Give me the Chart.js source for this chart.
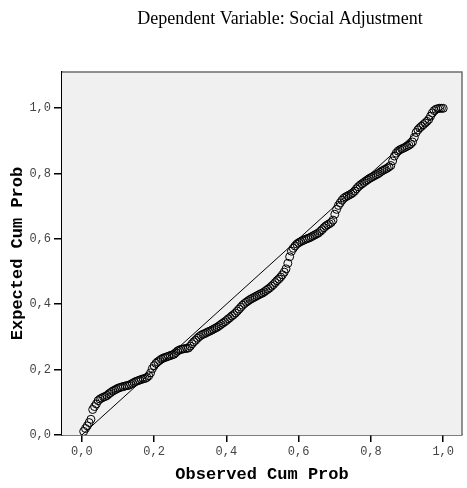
<!DOCTYPE html>
<html>
<head>
<meta charset="utf-8">
<script src="https://cdn.jsdelivr.net/npm/chart.js@4/dist/chart.umd.min.js"></script>
<style>
  html, body { margin: 0; padding: 0; background: #fff; }
  #wrap { width: 467px; height: 488px; }
</style>
</head>
<body>
<div id="wrap"><canvas id="pp"></canvas></div>
<script>
/* Normal P-P plot */
const chartTitle = 'Dependent Variable: Social Adjustment';
const xAxisTitle = 'Observed Cum Prob';
const yAxisTitle = 'Expected Cum Prob';
const tickValues = [0, 0.2, 0.4, 0.6, 0.8, 1.0];

const observedCumProb = [
  0.005, 0.010, 0.015, 0.020, 0.025, 0.030, 0.035, 0.040, 0.045, 0.050,
  0.055, 0.060, 0.065, 0.070, 0.075, 0.080, 0.085, 0.090, 0.095, 0.100,
  0.105, 0.110, 0.115, 0.120, 0.125, 0.130, 0.135, 0.140, 0.145, 0.150,
  0.155, 0.160, 0.165, 0.170, 0.175, 0.180, 0.185, 0.190, 0.195, 0.200,
  0.205, 0.210, 0.215, 0.220, 0.225, 0.230, 0.235, 0.240, 0.245, 0.250,
  0.255, 0.260, 0.265, 0.270, 0.275, 0.280, 0.285, 0.290, 0.295, 0.300,
  0.305, 0.310, 0.315, 0.320, 0.325, 0.330, 0.335, 0.340, 0.345, 0.350,
  0.355, 0.360, 0.365, 0.370, 0.375, 0.380, 0.385, 0.390, 0.395, 0.400,
  0.405, 0.410, 0.415, 0.420, 0.425, 0.430, 0.435, 0.440, 0.445, 0.450,
  0.455, 0.460, 0.465, 0.470, 0.475, 0.480, 0.485, 0.490, 0.495, 0.500,
  0.505, 0.510, 0.515, 0.520, 0.525, 0.530, 0.535, 0.540, 0.545, 0.550,
  0.555, 0.560, 0.565, 0.570, 0.575, 0.580, 0.585, 0.590, 0.595, 0.600,
  0.605, 0.610, 0.615, 0.620, 0.625, 0.630, 0.635, 0.640, 0.645, 0.650,
  0.655, 0.660, 0.665, 0.670, 0.675, 0.680, 0.685, 0.690, 0.695, 0.700,
  0.705, 0.710, 0.715, 0.720, 0.725, 0.730, 0.735, 0.740, 0.745, 0.750,
  0.755, 0.760, 0.765, 0.770, 0.775, 0.780, 0.785, 0.790, 0.795, 0.800,
  0.805, 0.810, 0.815, 0.820, 0.825, 0.830, 0.835, 0.840, 0.845, 0.850,
  0.855, 0.860, 0.865, 0.870, 0.875, 0.880, 0.885, 0.890, 0.895, 0.900,
  0.905, 0.910, 0.915, 0.920, 0.925, 0.930, 0.935, 0.940, 0.945, 0.950,
  0.955, 0.960, 0.965, 0.970, 0.975, 0.980, 0.985, 0.990, 0.995, 1.000
];

const expectedCumProb = [
  0.011, 0.020, 0.028, 0.038, 0.048, 0.078, 0.087, 0.095, 0.105, 0.110,
  0.113, 0.116, 0.118, 0.121, 0.126, 0.130, 0.134, 0.137, 0.140, 0.143,
  0.145, 0.147, 0.148, 0.150, 0.151, 0.152, 0.155, 0.158, 0.161, 0.164,
  0.166, 0.168, 0.170, 0.172, 0.173, 0.176, 0.181, 0.190, 0.203, 0.212,
  0.219, 0.224, 0.228, 0.232, 0.235, 0.237, 0.239, 0.241, 0.243, 0.245,
  0.247, 0.252, 0.257, 0.260, 0.262, 0.263, 0.264, 0.265, 0.266, 0.272,
  0.279, 0.285, 0.290, 0.296, 0.301, 0.305, 0.308, 0.310, 0.313, 0.316,
  0.318, 0.321, 0.324, 0.327, 0.330, 0.334, 0.338, 0.342, 0.346, 0.350,
  0.355, 0.359, 0.364, 0.368, 0.373, 0.379, 0.385, 0.391, 0.397, 0.402,
  0.406, 0.410, 0.414, 0.417, 0.420, 0.423, 0.426, 0.429, 0.432, 0.434,
  0.438, 0.442, 0.446, 0.450, 0.455, 0.460, 0.466, 0.472, 0.477, 0.483,
  0.490, 0.498, 0.508, 0.525, 0.545, 0.562, 0.571, 0.578, 0.584, 0.588,
  0.591, 0.594, 0.596, 0.599, 0.601, 0.603, 0.606, 0.609, 0.612, 0.615,
  0.618, 0.623, 0.628, 0.634, 0.639, 0.643, 0.646, 0.650, 0.657, 0.675,
  0.690, 0.702, 0.710, 0.718, 0.724, 0.728, 0.731, 0.734, 0.737, 0.741,
  0.746, 0.753, 0.759, 0.764, 0.768, 0.772, 0.776, 0.780, 0.784, 0.787,
  0.790, 0.793, 0.796, 0.799, 0.803, 0.807, 0.810, 0.813, 0.816, 0.820,
  0.824, 0.838, 0.853, 0.862, 0.868, 0.872, 0.875, 0.877, 0.880, 0.883,
  0.886, 0.890, 0.896, 0.910, 0.925, 0.933, 0.939, 0.944, 0.949, 0.954,
  0.959, 0.965, 0.975, 0.985, 0.992, 0.996, 0.998, 0.999, 0.999, 0.999
];

const refLineX = [0, 1];
const refLineY = [0, 1];

const points  = observedCumProb.map((x, i) => ({ x, y: expectedCumProb[i] }));
const refLine = refLineX.map((x, i) => ({ x, y: refLineY[i] }));

const commaFmt = v => v.toFixed(1).replace('.', ',');

/* plot background + grey top/right frame, title in the top band */
const frame = {
  id: 'frame',
  beforeDatasetsDraw(chart) {
    const { ctx, chartArea: a } = chart;
    ctx.save();
    ctx.fillStyle = '#f0f0f0';
    ctx.fillRect(a.left, a.top, a.right - a.left, a.bottom - a.top);
    ctx.restore();
  },
  afterDraw(chart) {
    const { ctx, chartArea: a } = chart;
    ctx.save();
    ctx.strokeStyle = '#6e6e6e';
    ctx.lineWidth = 1.5;
    ctx.beginPath();
    ctx.moveTo(a.left, a.top);
    ctx.lineTo(a.right, a.top);
    ctx.lineTo(a.right, a.bottom);
    ctx.stroke();
    ctx.fillStyle = '#000';
    ctx.font = "18px 'Liberation Serif', serif";
    ctx.textAlign = 'center';
    ctx.textBaseline = 'alphabetic';
    ctx.fillText(chartTitle, 280, 24);
    ctx.restore();
  }
};

new Chart(document.getElementById('pp'), {
  type: 'scatter',
  data: {
    datasets: [
      {
        label: 'Observed',
        data: points,
        order: 1,
        pointRadius: 4,
        pointHoverRadius: 4,
        pointBorderWidth: 1,
        pointBorderColor: '#000',
        pointBackgroundColor: 'rgba(0,0,0,0)',
      },
      {
        label: 'Reference',
        data: refLine,
        order: 2,
        type: 'line',
        showLine: true,
        borderColor: '#000',
        borderWidth: 1,
        pointRadius: 0,
        fill: false,
      }
    ]
  },
  options: {
    responsive: true,
    maintainAspectRatio: false,
    animation: false,
    layout: { padding: { top: 72, right: 1, left: 0, bottom: 0 } },
    plugins: {
      legend:  { display: false },
      tooltip: { enabled: false },
    },
    scales: {
      x: {
        type: 'linear',
        min: -0.055, max: 1.052,
        afterBuildTicks: s => { s.ticks = tickValues.map(v => ({ value: v })); },
        afterFit: s => { s.height = 53; },
        grid:   { drawOnChartArea: false, drawTicks: true, tickLength: 7, color: '#000', lineWidth: 1.5 },
        border: { display: true, color: '#000', width: 1.5 },
        ticks:  {
          color: '#444', padding: 3, maxRotation: 0,
          font: { family: "'Liberation Mono', monospace", size: 12 },
          callback: v => commaFmt(v),
        },
        title: {
          display: true, text: xAxisTitle, color: '#000',
          padding: { top: 0, bottom: 3 },
          font: { family: "'Liberation Mono', monospace", size: 17, weight: 'bold' },
        },
      },
      y: {
        type: 'linear',
        min: 0, max: 1.11,
        afterBuildTicks: s => { s.ticks = tickValues.map(v => ({ value: v })); },
        afterFit: s => { s.width = 62; },
        grid:   { drawOnChartArea: false, drawTicks: true, tickLength: 8, color: '#000', lineWidth: 1.5 },
        border: { display: true, color: '#000', width: 1.5 },
        ticks:  {
          color: '#444', padding: 3,
          font: { family: "'Liberation Mono', monospace", size: 12 },
          callback: v => commaFmt(v),
        },
        title: {
          display: true, text: yAxisTitle, color: '#000',
          padding: { top: 8, bottom: 0 },
          font: { family: "'Liberation Mono', monospace", size: 17, weight: 'bold' },
        },
      }
    }
  },
  plugins: [frame]
});
</script>
</body>
</html>
